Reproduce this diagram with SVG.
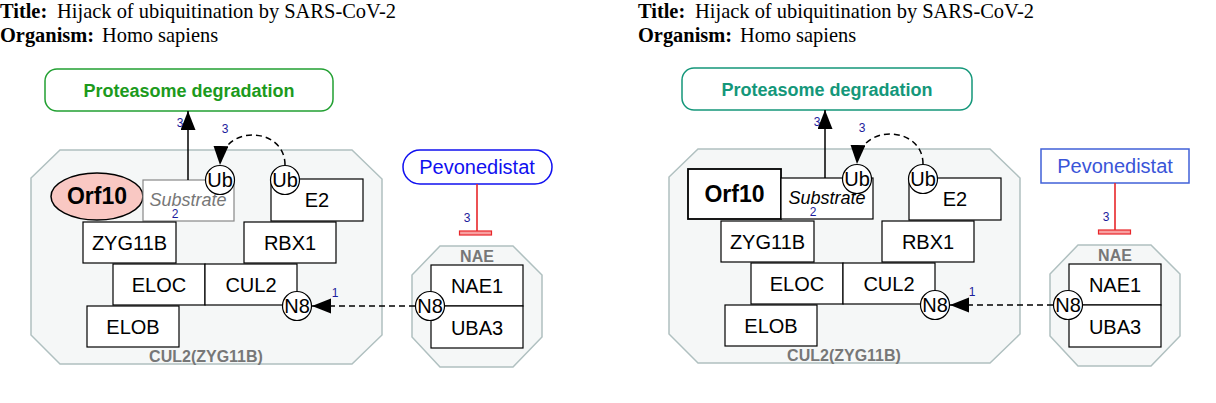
<svg xmlns="http://www.w3.org/2000/svg" width="1216" height="403" viewBox="0 0 1216 403">
<style>
.comp{fill:#f5f7f7;stroke:#b0c0c0;stroke-width:1.5}
.node{fill:#fff;stroke:#000;stroke-width:1.2}
.lbl{font-family:"Liberation Sans",Arial,sans-serif;font-size:20px;text-anchor:middle;fill:#000}
.clbl{font-family:"Liberation Sans",Arial,sans-serif;font-size:16px;font-weight:bold;text-anchor:middle;fill:#777}
.elbl{font-family:"Liberation Sans",Arial,sans-serif;font-size:12px;text-anchor:middle;fill:#1c1c9c}
.ttl{font-family:"Liberation Serif","Times New Roman",serif;font-size:20.4px;fill:#000}
.b{font-weight:bold}
.edge{fill:none;stroke:#000;stroke-width:1.5}
.dash{stroke-dasharray:6,4}
.inh{stroke:#e8262a;stroke-width:1.6;fill:none}
</style>
<defs>
<marker id="arr" markerUnits="userSpaceOnUse" markerWidth="20" markerHeight="16" refX="19" refY="7.5" orient="auto"><path d="M0,0 L19,7.5 L0,15 z" fill="#000"/></marker>
</defs>

<g id="titles">
<text class="ttl" y="18"><tspan class="b" x="0">Title:</tspan><tspan x="57" textLength="339" lengthAdjust="spacingAndGlyphs">Hijack of ubiquitination by SARS-CoV-2</tspan></text>
<text class="ttl" y="42"><tspan class="b" x="0">Organism:</tspan><tspan x="102">Homo sapiens</tspan></text>
<text class="ttl" y="18"><tspan class="b" x="638">Title:</tspan><tspan x="695" textLength="339" lengthAdjust="spacingAndGlyphs">Hijack of ubiquitination by SARS-CoV-2</tspan></text>
<text class="ttl" y="42"><tspan class="b" x="638">Organism:</tspan><tspan x="740">Homo sapiens</tspan></text>
</g>

<!-- LEFT PANEL -->
<g id="left-panel">
<g id="L-cul2-complex">
<polygon class="comp" points="60,150 352,150 382,179 382,335 352,364 60,364 31,335 31,178"/>
<text class="clbl" x="206" y="362">CUL2(ZYG11B)</text>
</g>
<g id="L-nae-complex">
<polygon class="comp" points="440,246 513,246 542,275 542,337 513,367 440,367 412,337 412,275"/>
<text class="clbl" x="477" y="262">NAE</text>
</g>
<g id="L-proteasome">
<rect x="45" y="69" width="288" height="42" rx="12" fill="#fff" stroke="#22a032" stroke-width="1.5"/>
<text class="lbl b" x="189" y="97" style="font-size:18px;fill:#1c9a1c">Proteasome degradation</text>
</g>
<g id="L-pevonedistat">
<rect x="403" y="150" width="149" height="34" rx="17" fill="#fff" stroke="#1010f0" stroke-width="1.5"/>
<text class="lbl" x="477" y="174" style="fill:#1010f0">Pevonedistat</text>
</g>
<g id="L-orf10">
<ellipse cx="97" cy="196.5" rx="46" ry="23.5" fill="#f9c8c3" stroke="#000" stroke-width="1.5"/>
<text class="lbl b" x="97" y="204" style="font-size:23px">Orf10</text>
</g>
<g id="L-substrate">
<rect x="143" y="180" width="91" height="41" fill="#fff" stroke="#888" stroke-width="1.2"/>
<text class="lbl" x="188" y="206" style="font-size:18px;font-style:italic;fill:#777">Substrate</text>
<text class="elbl" x="175" y="218">2</text>
</g>
<g id="L-e2">
<rect class="node" x="271" y="179" width="92" height="42"/>
<text class="lbl" x="317" y="207">E2</text>
</g>
<g id="L-zyg11b">
<rect class="node" x="83" y="222" width="93" height="41"/>
<text class="lbl" x="129.5" y="249.5">ZYG11B</text>
</g>
<g id="L-rbx1">
<rect class="node" x="244" y="222" width="92" height="41"/>
<text class="lbl" x="290" y="249.5">RBX1</text>
</g>
<g id="L-eloc">
<rect class="node" x="113" y="264" width="92" height="41"/>
<text class="lbl" x="159" y="291.5">ELOC</text>
</g>
<g id="L-cul2">
<rect class="node" x="205" y="264" width="92" height="41"/>
<text class="lbl" x="251" y="291.5">CUL2</text>
</g>
<g id="L-elob">
<rect class="node" x="87" y="306" width="92" height="41"/>
<text class="lbl" x="133" y="333.5">ELOB</text>
</g>
<g id="L-nae1">
<rect class="node" x="431" y="265" width="92" height="41"/>
<text class="lbl" x="477" y="292.5">NAE1</text>
</g>
<g id="L-uba3">
<rect class="node" x="431" y="306" width="92" height="42"/>
<text class="lbl" x="477" y="334.5">UBA3</text>
</g>
<g id="L-ub-substrate">
<circle class="node" cx="220" cy="180" r="14.5"/>
<text class="lbl" x="220" y="187">Ub</text>
</g>
<g id="L-ub-e2">
<circle class="node" cx="285" cy="180" r="14.5"/>
<text class="lbl" x="285" y="187">Ub</text>
</g>
<g id="L-n8-cul2">
<circle class="node" cx="297" cy="306" r="14.5"/>
<text class="lbl" x="297" y="313">N8</text>
</g>
<g id="L-n8-nae">
<circle class="node" cx="430" cy="306" r="14.5"/>
<text class="lbl" x="430" y="313">N8</text>
</g>
<g id="L-connectors">
<path class="edge" d="M188,180 L188,111" marker-end="url(#arr)"/>
<text class="elbl" x="180" y="127">3</text>
<path class="edge dash" d="M285,165 C285,126 222,124 220,165" marker-end="url(#arr)"/>
<text class="elbl" x="225" y="133">3</text>
<path class="edge dash" d="M415,306 L312,306" marker-end="url(#arr)"/>
<text class="elbl" x="335" y="297">1</text>
<path class="inh" d="M477,184 L477,232"/>
<rect x="459.5" y="231" width="32" height="4" fill="#f8a0a0" stroke="#e8262a" stroke-width="1.2"/>
<text class="elbl" x="467" y="222">3</text>
</g>
</g>

<!-- RIGHT PANEL -->
<g id="right-panel" transform="translate(638,-1)">
<g id="R-cul2-complex">
<polygon class="comp" points="60,150 352,150 382,179 382,335 352,364 60,364 31,335 31,178"/>
<text class="clbl" x="206" y="362">CUL2(ZYG11B)</text>
</g>
<g id="R-nae-complex">
<polygon class="comp" points="440,246 513,246 542,275 542,337 513,367 440,367 412,337 412,275"/>
<text class="clbl" x="477" y="262">NAE</text>
</g>
<g id="R-proteasome">
<rect x="44" y="69" width="290" height="42" rx="12" fill="#fff" stroke="#14977a" stroke-width="1.5"/>
<text class="lbl b" x="189" y="97" style="font-size:18px;fill:#14977a">Proteasome degradation</text>
</g>
<g id="R-pevonedistat">
<rect x="403" y="150" width="148" height="34" fill="#fff" stroke="#4060d8" stroke-width="1.5"/>
<text class="lbl" x="477" y="174" style="fill:#3a55d8">Pevonedistat</text>
</g>
<g id="R-orf10">
<rect x="50" y="170" width="93" height="50" fill="#fff" stroke="#000" stroke-width="1.8"/>
<text class="lbl b" x="96.5" y="203" style="font-size:23px">Orf10</text>
</g>
<g id="R-substrate">
<rect class="node" x="143" y="179" width="92" height="41"/>
<text class="lbl" x="189" y="205" style="font-size:18px;font-style:italic">Substrate</text>
<text class="elbl" x="175" y="217">2</text>
</g>
<g id="R-e2">
<rect class="node" x="271" y="179" width="92" height="42"/>
<text class="lbl" x="317" y="207">E2</text>
</g>
<g id="R-zyg11b">
<rect class="node" x="83" y="222" width="93" height="41"/>
<text class="lbl" x="129.5" y="249.5">ZYG11B</text>
</g>
<g id="R-rbx1">
<rect class="node" x="244" y="222" width="92" height="41"/>
<text class="lbl" x="290" y="249.5">RBX1</text>
</g>
<g id="R-eloc">
<rect class="node" x="113" y="264" width="92" height="41"/>
<text class="lbl" x="159" y="291.5">ELOC</text>
</g>
<g id="R-cul2">
<rect class="node" x="205" y="264" width="92" height="41"/>
<text class="lbl" x="251" y="291.5">CUL2</text>
</g>
<g id="R-elob">
<rect class="node" x="87" y="306" width="92" height="41"/>
<text class="lbl" x="133" y="333.5">ELOB</text>
</g>
<g id="R-nae1">
<rect class="node" x="431" y="265" width="92" height="41"/>
<text class="lbl" x="477" y="292.5">NAE1</text>
</g>
<g id="R-uba3">
<rect class="node" x="431" y="306" width="92" height="42"/>
<text class="lbl" x="477" y="334.5">UBA3</text>
</g>
<g id="R-ub-substrate">
<circle class="node" cx="219" cy="180" r="14.5"/>
<text class="lbl" x="219" y="187">Ub</text>
</g>
<g id="R-ub-e2">
<circle class="node" cx="285" cy="180" r="14.5"/>
<text class="lbl" x="285" y="187">Ub</text>
</g>
<g id="R-n8-cul2">
<circle class="node" cx="297" cy="306" r="14.5"/>
<text class="lbl" x="297" y="313">N8</text>
</g>
<g id="R-n8-nae">
<circle class="node" cx="430" cy="306" r="14.5"/>
<text class="lbl" x="430" y="313">N8</text>
</g>
<g id="R-connectors">
<path class="edge" d="M187,179 L187,111" marker-end="url(#arr)"/>
<text class="elbl" x="179" y="127">3</text>
<path class="edge dash" d="M285,165 C285,126 221,124 219,165" marker-end="url(#arr)"/>
<text class="elbl" x="224" y="133">3</text>
<path class="edge dash" d="M415,306 L312,306" marker-end="url(#arr)"/>
<text class="elbl" x="334" y="297">1</text>
<path class="inh" d="M477,184 L477,232"/>
<rect x="460.5" y="231" width="32" height="4" fill="#f8a0a0" stroke="#e8262a" stroke-width="1.2"/>
<text class="elbl" x="468" y="222">3</text>
</g>
</g>
</svg>
